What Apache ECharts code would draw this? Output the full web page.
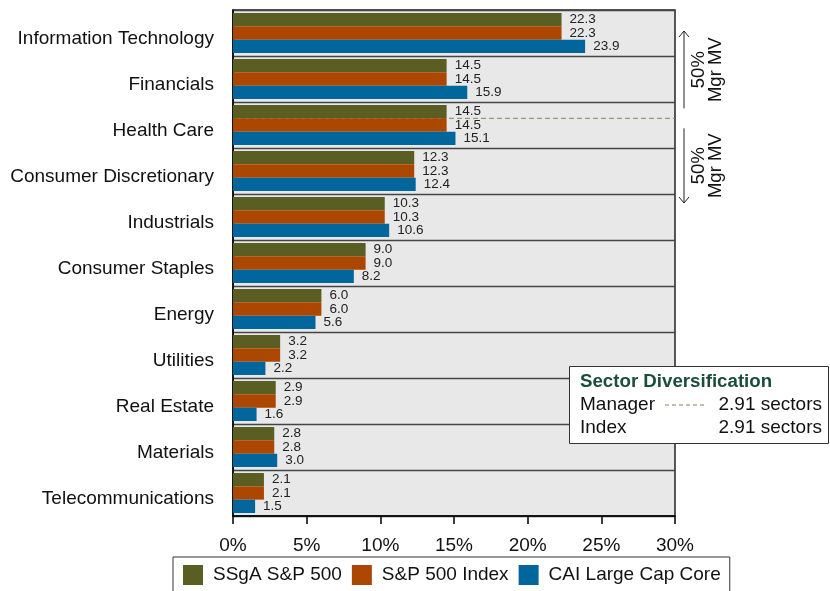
<!DOCTYPE html>
<html>
<head>
<meta charset="utf-8">
<script src="https://cdn.jsdelivr.net/npm/echarts@6/dist/echarts.min.js"></script>
<style>
html,body{margin:0;padding:0;background:#fff;}
#chart{width:830px;height:591px;}
</style>
</head>
<body>
<div id="chart"></div>
<script>
const categories = ['Information Technology','Financials','Health Care','Consumer Discretionary','Industrials','Consumer Staples','Energy','Utilities','Real Estate','Materials','Telecommunications'];
const ssgaValues = [22.3,14.5,14.5,12.3,10.3,9.0,6.0,3.2,2.9,2.8,2.1];
const spIndexValues = [22.3,14.5,14.5,12.3,10.3,9.0,6.0,3.2,2.9,2.8,2.1];
const caiValues = [23.9,15.9,15.1,12.4,10.6,8.2,5.6,2.2,1.6,3.0,1.5];
const seriesNames = ['SSgA S&P 500','S&P 500 Index','CAI Large Cap Core'];
const xTicks = [0,5,10,15,20,25,30];
const managerDiv = '2.91 sectors';
const indexDiv = '2.91 sectors';
const dashedCategory = 'Health Care';

const colors = ['#5b5e22','#ab4700','#00669c'];
const FONT = 'Liberation Sans, Arial, sans-serif';

const chart = echarts.init(document.getElementById('chart'), null, {renderer:'canvas'});

function mkSeries(name, data, color){
  return {
    name: name, type:'bar', data: data, barGap: '0%', barCategoryGap: '13%',
    itemStyle:{color: color},
    label:{show:true, position:'right', distance:8, fontFamily:FONT, fontSize:13.5, color:'#222',
      formatter: p => p.value.toFixed(1)},
    z: 3
  };
}

const option = {
  animation:false,
  textStyle:{fontFamily:FONT},
  grid:{left:233, right:155, top:10, bottom:75, show:true, backgroundColor:'#e8e8e8', borderColor:'#222', borderWidth:1.5},
  xAxis:{type:'value', min:xTicks[0], max:xTicks[xTicks.length-1], interval:5,
    axisLine:{show:true, lineStyle:{color:'#000', width:1.5}},
    axisTick:{show:true, length:8, lineStyle:{color:'#000', width:1.5}},
    splitLine:{show:false},
    axisLabel:{formatter:'{value}%', fontSize:19, color:'#111', margin:20, fontFamily:FONT}},
  yAxis:{type:'category', data:categories, inverse:true,
    axisLine:{show:true, lineStyle:{color:'#000', width:1.5}},
    axisTick:{show:false},
    splitLine:{show:true, interval:0, lineStyle:{color:'#444', width:1.3}},
    axisLabel:{fontSize:19, color:'#111', margin:19, fontFamily:FONT, verticalAlign:'top', lineHeight:11}},
  legend:{data:seriesNames, left:173, top:557, itemWidth:20, itemHeight:20, itemGap:10,
    icon:'rect', borderColor:'#333', borderWidth:1, padding:[8,9,10,10],
    textStyle:{fontSize:19, color:'#111', fontFamily:FONT, padding:[0,0,0,5]}},
  series:[
    mkSeries(seriesNames[0], ssgaValues, colors[0]),
    mkSeries(seriesNames[1], spIndexValues, colors[1]),
    mkSeries(seriesNames[2], caiValues, colors[2])
  ]
};
chart.setOption(option);

// Annotations computed from axis scales
const yc = chart.convertToPixel({yAxisIndex:0}, dashedCategory);
const y0 = chart.convertToPixel({yAxisIndex:0}, categories[0]);
const y1 = chart.convertToPixel({yAxisIndex:0}, categories[1]);
const band = y1 - y0;
const barW = band * (1 - 0.13) / 3;
const dashY = yc - band*(1-0.13)/2 + barW;
const xL = chart.convertToPixel({xAxisIndex:0}, xTicks[0]);
const xR = chart.convertToPixel({xAxisIndex:0}, xTicks[xTicks.length-1]);

const ax = xR + 9;
const topA = 31, midA1 = dashY - 10, midA2 = dashY + 10, botA = 203;
const arrowStyle = {stroke:'#222', lineWidth:1, fill:null};
const BF = 19;

chart.setOption({
  graphic:[
    {type:'line', shape:{x1:xL, y1:dashY, x2:xR, y2:dashY}, style:{stroke:'#85855a', lineWidth:1, lineDash:[5,3]}, z:2},
    {type:'line', shape:{x1:ax, y1:topA, x2:ax, y2:midA1}, style:arrowStyle},
    {type:'polyline', shape:{points:[[ax-5,topA+6],[ax,topA],[ax+5,topA+6]]}, style:arrowStyle},
    {type:'line', shape:{x1:ax, y1:midA2, x2:ax, y2:botA}, style:arrowStyle},
    {type:'polyline', shape:{points:[[ax-5,botA-6],[ax,botA],[ax+5,botA-6]]}, style:arrowStyle},
    {type:'text', x:707, y:(topA+midA1)/2, rotation:Math.PI/2,
      style:{text:'50%\nMgr MV', fontSize:18.5, fontFamily:FONT, fill:'#111', align:'center', verticalAlign:'middle', lineHeight:17}},
    {type:'text', x:707, y:(midA2+botA)/2, rotation:Math.PI/2,
      style:{text:'50%\nMgr MV', fontSize:18.5, fontFamily:FONT, fill:'#111', align:'center', verticalAlign:'middle', lineHeight:17}},
    {type:'group', z:10, children:[
      {type:'rect', shape:{x:569.5, y:366.5, width:259, height:77}, style:{fill:'#fff', stroke:'#333', lineWidth:1}},
      {type:'text', x:580, y:382, style:{text:'Sector Diversification', fontSize:18.7, fontWeight:'bold', fontFamily:FONT, fill:'#1c4d3c', verticalAlign:'middle'}},
      {type:'text', x:580, y:405, style:{text:'Manager', fontSize:BF, fontFamily:FONT, fill:'#111', verticalAlign:'middle'}},
      {type:'line', shape:{x1:665, y1:405, x2:706, y2:405}, style:{stroke:'#85855a', lineWidth:1, lineDash:[4,3]}},
      {type:'text', x:822, y:405, style:{text:managerDiv, fontSize:BF, fontFamily:FONT, fill:'#111', align:'right', verticalAlign:'middle'}},
      {type:'text', x:580, y:428, style:{text:'Index', fontSize:BF, fontFamily:FONT, fill:'#111', verticalAlign:'middle'}},
      {type:'text', x:822, y:428, style:{text:indexDiv, fontSize:BF, fontFamily:FONT, fill:'#111', align:'right', verticalAlign:'middle'}}
    ]}
  ]
});
</script>
</body>
</html>
